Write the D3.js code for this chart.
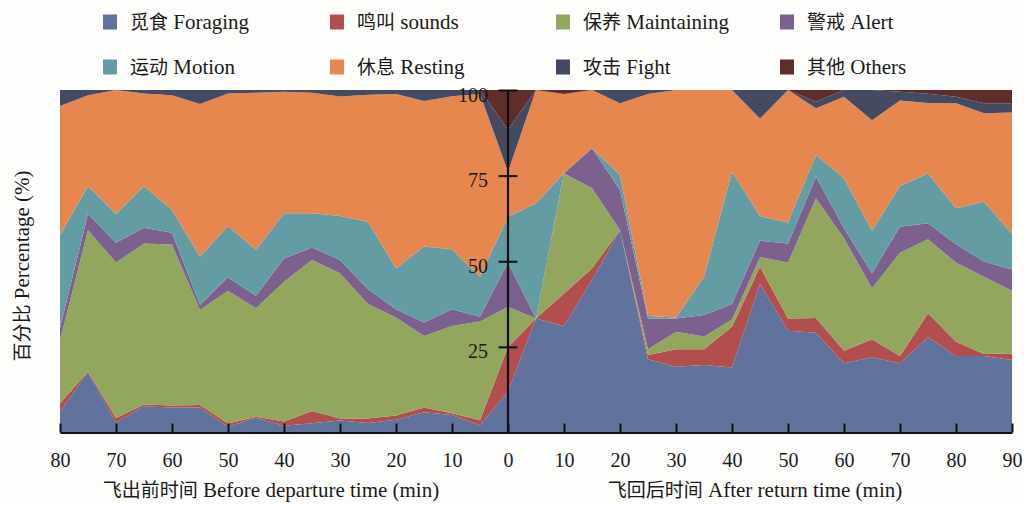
<!DOCTYPE html>
<html>
<head>
<meta charset="utf-8">
<script src="https://cdn.jsdelivr.net/npm/d3@7"></script>
<style>
  html, body { margin: 0; padding: 0; background: #fdfdfb; }
  svg { display: block; }
</style>
</head>
<body>
<svg id="chart" width="1025" height="505"></svg>
<script>
// Minutes relative to departure (negative) and after return (positive)
const minutes = [-80, -75, -70, -65, -60, -55, -50, -45, -40, -35, -30, -25, -20, -15, -10, -5,
                 0, 5, 10, 15, 20, 25, 30, 35, 40, 45, 50, 55, 60, 65, 70, 75, 80, 85, 90];

// Share of each behaviour (%) at every time point
const foraging    = [6.1, 17.5, 2.9, 7.7, 7.3, 7.3, 1.7, 4.3, 2.0, 2.7, 3.5, 2.8, 3.7, 5.9, 5.1, 2.1,
                     11.9, 33.3, 31.1, 44.5, 59.1, 21.4, 19.2, 19.7, 19.0, 43.4, 29.7, 29.1, 20.2, 22.0, 20.2, 27.8, 22.3, 22.3, 21.2];
const sounds      = [2.4, 0.3, 1.3, 0.5, 0.6, 0.7, 0.9, 0.3, 1.2, 3.6, 0.6, 1.3, 1.3, 1.4, 0.5, 1.5,
                     13.1, 0, 9.5, 3.4, 0, 1.2, 5.1, 4.6, 11.9, 5.0, 3.6, 4.3, 3.7, 5.2, 2.1, 7.0, 4.2, 0.6, 1.9];
const maintaining = [18.5, 41.3, 45.4, 47.0, 47.0, 27.8, 38.8, 31.7, 40.8, 44.1, 42.4, 33.4, 28.6, 20.9, 25.5, 28.8,
                     11.7, 0, 35.1, 23.4, 0, 1.7, 5.1, 3.7, 2.1, 2.8, 16.3, 35.0, 32.8, 14.9, 30.2, 21.6, 23.1, 22.6, 18.3];
const alert       = [3.5, 4.7, 5.8, 4.6, 3.4, 1.4, 3.9, 3.6, 6.8, 3.6, 3.9, 4.3, 2.4, 3.9, 4.9, 1.4,
                     12.9, 0, 0, 11.7, 11.7, 9.0, 3.9, 6.3, 4.5, 4.8, 5.6, 6.3, 2.9, 4.4, 7.6, 4.7, 5.4, 4.4, 6.2];
const motion      = [27.2, 8.2, 8.4, 12.2, 6.7, 14.1, 15.0, 13.4, 13.2, 10.0, 12.8, 19.7, 11.9, 22.2, 17.5, 11.7,
                     13.4, 33.6, 0, 0, 4.4, 0.7, 0.3, 11.2, 38.6, 7.2, 6.1, 6.3, 14.6, 12.4, 11.9, 14.6, 10.5, 17.5, 10.4];
const resting     = [37.6, 26.5, 36.2, 27.0, 33.5, 44.6, 38.7, 45.9, 35.5, 35.2, 34.9, 37.1, 50.9, 42.5, 44.7, 53.3,
                     13.1, 33.1, 23.1, 17.0, 20.9, 64.8, 66.4, 54.5, 23.9, 28.5, 38.7, 13.7, 23.8, 32.3, 24.9, 20.5, 30.6, 25.8, 35.4];
const fight       = [4.7, 1.5, 0, 1.0, 1.5, 4.1, 1.0, 0.8, 0.5, 0.8, 1.9, 1.4, 1.2, 3.2, 1.8, 1.2,
                     12.4, 0, 0, 0, 3.9, 1.2, 0, 0, 0, 8.3, 0, 1.9, 2.0, 8.8, 2.6, 2.7, 1.9, 2.9, 2.7];
const others      = [0, 0, 0, 0, 0, 0, 0, 0, 0, 0, 0, 0, 0, 0, 0, 0,
                     11.5, 0, 1.2, 0, 0, 0, 0, 0, 0, 0, 0, 3.4, 0, 0, 0.5, 1.1, 2.0, 3.9, 3.9];

// Legend labels and colours, bottom layer first
const keys   = ["foraging", "sounds", "maintaining", "alert", "motion", "resting", "fight", "others"];
const labels = ["觅食 Foraging", "鸣叫 sounds", "保养 Maintaining", "警戒 Alert",
                "运动 Motion", "休息 Resting", "攻击 Fight", "其他 Others"];
const colors = ["#60739c", "#b04f4e", "#93a65e", "#7c608e", "#649ca4", "#e6874f", "#434a62", "#5f2d2a"];

// Axis ticks
const xTickValues = [-80, -70, -60, -50, -40, -30, -20, -10, 0, 10, 20, 30, 40, 50, 60, 70, 80, 90];
const xTickLabels = ["80", "70", "60", "50", "40", "30", "20", "10", "0", "10", "20", "30", "40", "50", "60", "70", "80", "90"];
const yTickValues = [25, 50, 75, 100];

const LATIN = "'Liberation Serif', 'Times New Roman', serif";
const CJK = "'Noto Sans CJK SC', sans-serif";
const INK = "#1a1a1a";

const series = { foraging, sounds, maintaining, alert, motion, resting, fight, others };
const rows = minutes.map((m, i) => {
  const r = { minute: m };
  keys.forEach(k => { r[k] = series[k][i]; });
  return r;
});

const svg = d3.select("#chart");

const x = d3.scaleLinear().domain([-80, 90]).range([60, 1012]);
const y = d3.scaleLinear().domain([0, 100]).range([432.5, 90]);

const stacked = d3.stack().keys(keys)(rows);

const area = d3.area()
  .x(d => x(d.data.minute))
  .y0(d => y(d[0]))
  .y1(d => y(d[1]))
  .curve(d3.curveLinear);

svg.append("g")
  .selectAll("path")
  .data(stacked)
  .join("path")
  .attr("d", area)
  .attr("fill", (d, i) => colors[i]);

// Bottom axis with inward ticks
const xAxis = d3.axisBottom(x)
  .tickValues(xTickValues)
  .tickFormat((d, i) => xTickLabels[i])
  .tickSizeInner(-9)
  .tickSizeOuter(0)
  .tickPadding(20);

const gx = svg.append("g")
  .attr("transform", "translate(0,432.5)")
  .call(xAxis);
gx.select(".domain").attr("stroke", "#111").attr("stroke-width", 2.2);
gx.selectAll(".tick line").attr("stroke", "#111").attr("stroke-width", 2);
gx.selectAll(".tick text")
  .style("font-family", LATIN)
  .style("font-size", "20px")
  .attr("fill", INK);

// Vertical axis placed at minute 0, ticks crossing the line
const yAxis = d3.axisLeft(y)
  .tickValues(yTickValues)
  .tickSizeInner(0)
  .tickSizeOuter(0)
  .tickPadding(20);

const gy = svg.append("g")
  .attr("transform", `translate(${x(0)},0)`)
  .call(yAxis);
gy.select(".domain")
  .attr("d", `M0,${y(0)}V${y(100)}`)
  .attr("stroke", "#111").attr("stroke-width", 2.2);
gy.selectAll(".tick line")
  .attr("x1", -9.5).attr("x2", 9.5)
  .attr("stroke", "#111").attr("stroke-width", 2);
gy.selectAll(".tick text")
  .attr("dy", "0.55em")
  .style("font-family", LATIN)
  .style("font-size", "20px")
  .attr("fill", INK);

// Bilingual text: Chinese part in the CJK face, English part in the serif face
function bilingual(sel, str) {
  const cut = str.indexOf(" ");
  sel.append("tspan").style("font-family", CJK).style("font-size", "19px").text(str.slice(0, cut));
  sel.append("tspan").style("font-family", LATIN).text(" " + str.slice(cut + 1));
}

// Axis titles
function title(xPos, yPos, str, rotate) {
  const t = svg.append("text")
    .attr("text-anchor", "middle")
    .style("font-size", "21px")
    .attr("fill", INK);
  bilingual(t, str);
  if (rotate) t.attr("transform", `translate(${xPos},${yPos}) rotate(-90)`);
  else t.attr("x", xPos).attr("y", yPos);
}
title(271, 497, "飞出前时间 Before departure time (min)");
title(755, 497, "飞回后时间 After return time (min)");
title(29, 266, "百分比 Percentage (%)", true);

// Legend, two rows of four
const legendCols = [103, 330, 556, 780];
const legendRows = [22, 67];
const legend = svg.append("g")
  .selectAll("g")
  .data(labels)
  .join("g")
  .attr("transform", (d, i) => `translate(${legendCols[i % 4]},${legendRows[Math.floor(i / 4)]})`);

legend.append("rect")
  .attr("x", 0).attr("y", -7.5)
  .attr("width", 14).attr("height", 15)
  .attr("fill", (d, i) => colors[i]);

legend.append("text")
  .attr("x", 27).attr("y", 0)
  .attr("dy", "0.35em")
  .style("font-size", "21px")
  .attr("fill", INK)
  .each(function (d) { bilingual(d3.select(this), d); });
</script>
</body>
</html>
